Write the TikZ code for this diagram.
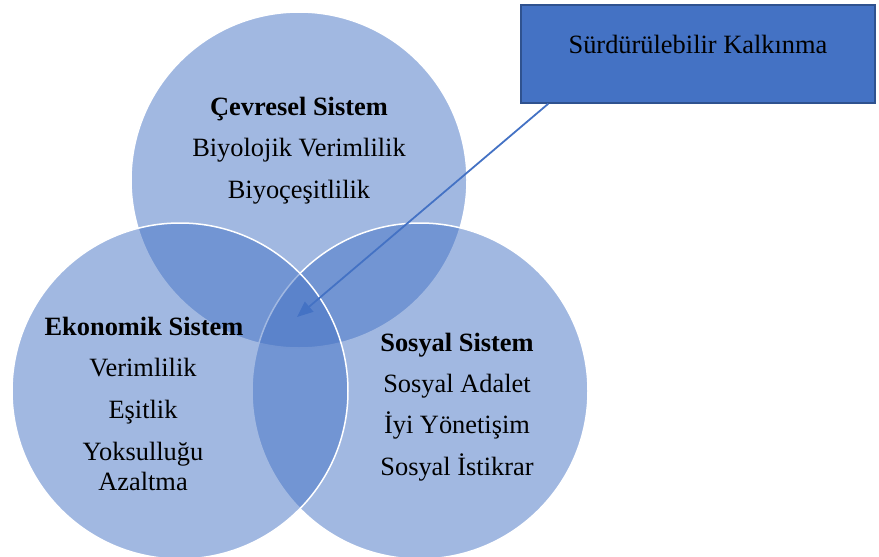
\documentclass[tikz,border=0pt]{standalone}
\usepackage{fontspec}
\setmainfont{Liberation Serif}
\usetikzlibrary{positioning}
\usetikzlibrary{arrows.meta}
\definecolor{venblue}{HTML}{4472C4}
\definecolor{venedge}{HTML}{2F528F}
\tikzset{x=1pt, y=-1pt, % one unit is one pixel of the reference
every node/.style={font=\fontsize{26.4}{31}\selectfont},
system/.style={ % Sets the properties for each circle
circle,
minimum size=336pt,
inner sep=0pt,
fill=venblue,
fill opacity=0.5,
draw=white,
line width=1.5pt},
line/.style={anchor=base, inner sep=0pt},
head/.style={line, font=\fontsize{26.4}{31}\selectfont\bfseries},
goalbox/.style={ % Box of the common goal
rectangle,
minimum width=354pt,
minimum height=98pt,
fill=venblue,
draw=venedge,
line width=1.5pt},
pointer/.style={ % Arrow into the middle
draw=venblue,
line width=1.8pt,
-{Triangle[length=16pt,width=13pt]}}}

\begin{document}
\begin{tikzpicture}
				\useasboundingbox (0,0) rectangle (879,557);

				\node[system] (env) at (299,180) {};
				\node[system] (soc) at (420,391) {};
				\node[system] (eco) at (180,391) {};

				\node[head] (envh) at (299,115) {Çevresel Sistem};
				\node[line] (env1) at (299,156) {Biyolojik Verimlilik};
				\node[line] (env2) at (299,198) {Biyoçeşitlilik};

				\node[head] (ecoh) at (144,335) {Ekonomik Sistem};
				\node[line] (eco1) at (143,376) {Verimlilik};
				\node[line] (eco2) at (143,418) {Eşitlik};
				\node[line] (eco3) at (143,460) {Yoksulluğu};
				\node[line] (eco4) at (143,490) {Azaltma};

				\node[head] (soch) at (457,351) {Sosyal Sistem};
				\node[line] (soc1) at (457,392) {Sosyal Adalet};
				\node[line] (soc2) at (457,433) {İyi Yönetişim};
				\node[line] (soc3) at (457,475) {Sosyal İstikrar};

				\node[goalbox] (goal) at (698,54) {};
				\node[line] (goalt) at (698,53) {Sürdürülebilir Kalkınma};

				\coordinate (mid) at (297,317);
				\draw[pointer] ([xshift=28pt]goal.south west) -- (mid);
			\end{tikzpicture}
\end{document}
